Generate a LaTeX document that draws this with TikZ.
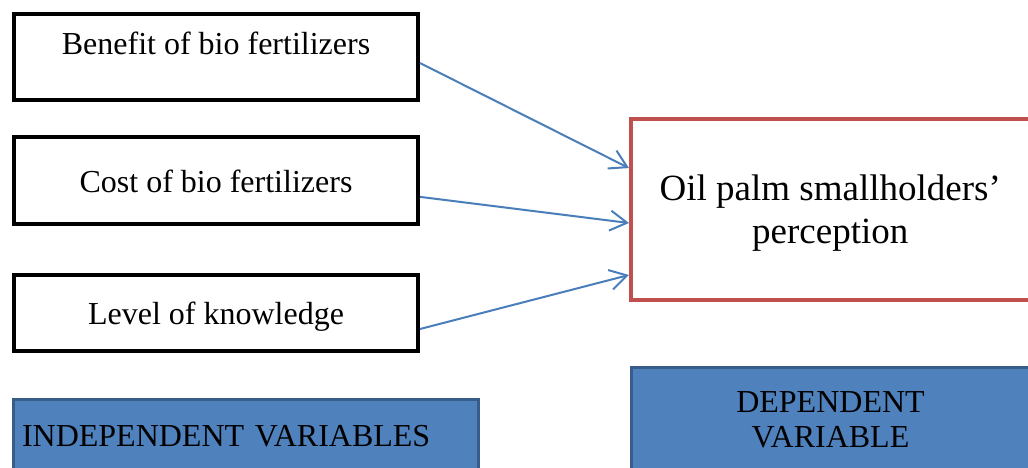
\documentclass[tikz,border=0pt]{standalone}
\usepackage{fontspec}
\setmainfont{Liberation Serif}
\usetikzlibrary{arrows.meta,calc}
\definecolor{redborder}{HTML}{C0504D}
\definecolor{bluefill}{HTML}{4F81BD}
\definecolor{blueborder}{HTML}{385D8A}
\definecolor{arrowblue}{HTML}{4A7EBB}
\begin{document}
\begin{tikzpicture}[x=1pt,y=-1pt,
  varbox/.style={draw=black, line width=4pt, fill=white, minimum width=404pt,
    font=\fontsize{32}{36}\selectfont, inner sep=0pt},
  depbox/.style={draw=redborder, line width=4pt, fill=white, align=center,
    font=\fontsize{37}{43}\selectfont, inner sep=0pt},
  labelbox/.style={draw=blueborder, fill=bluefill, line width=3pt,
    font=\fontsize{32}{35}\selectfont},
  conn/.style={draw=arrowblue, line width=2pt,
    -{Straight Barb[length=17pt,width=20pt]}}]
\clip (0,0) rectangle (1028,468);
\fill[white] (0,0) rectangle (1028,468);

\node[varbox, minimum height=86pt, text height=22pt, text depth=26pt] (b1) at (216,57) {Benefit of bio fertilizers};
\node[varbox, minimum height=87pt, text height=23pt, text depth=0pt] (b2) at (216,180.5) {Cost of bio fertilizers};
\node[varbox, minimum height=76pt, text height=22pt, text depth=0pt] (b3) at (216,313) {Level of knowledge};

\node[depbox, minimum width=398.5pt, minimum height=181pt, text height=68pt, text depth=1pt] (dv) at (830.25,209.5) {Oil palm smallholders’\\perception};

\node[labelbox, anchor=north west, text width=448pt, align=left, inner sep=8.5pt,
  text height=38pt, text depth=30pt] (il) at (12,398) {INDEPENDENT VARIABLES};
\node[labelbox, anchor=north, minimum width=399pt, align=center, inner xsep=0pt,
  inner ysep=21.5pt, text height=58pt, text depth=7pt] (dl) at (830.5,366) {DEPENDENT\\VARIABLE};

\coordinate (s1) at ($(b1.north east)!0.567!(b1.south east)$);
\coordinate (s2) at ($(b2.north east)!0.68!(b2.south east)$);
\coordinate (s3) at ($(b3.north east)!0.70!(b3.south east)$);
\coordinate (e1) at ($(dv.north west)!0.276!(dv.south west)$);
\coordinate (e2) at ($(dv.north west)!0.573!(dv.south west)$);
\coordinate (e3) at ($(dv.north west)!0.854!(dv.south west)$);

\draw[conn] (s1) -- (e1);
\draw[conn] (s2) -- (e2);
\draw[conn] (s3) -- (e3);
\end{tikzpicture}
\end{document}
